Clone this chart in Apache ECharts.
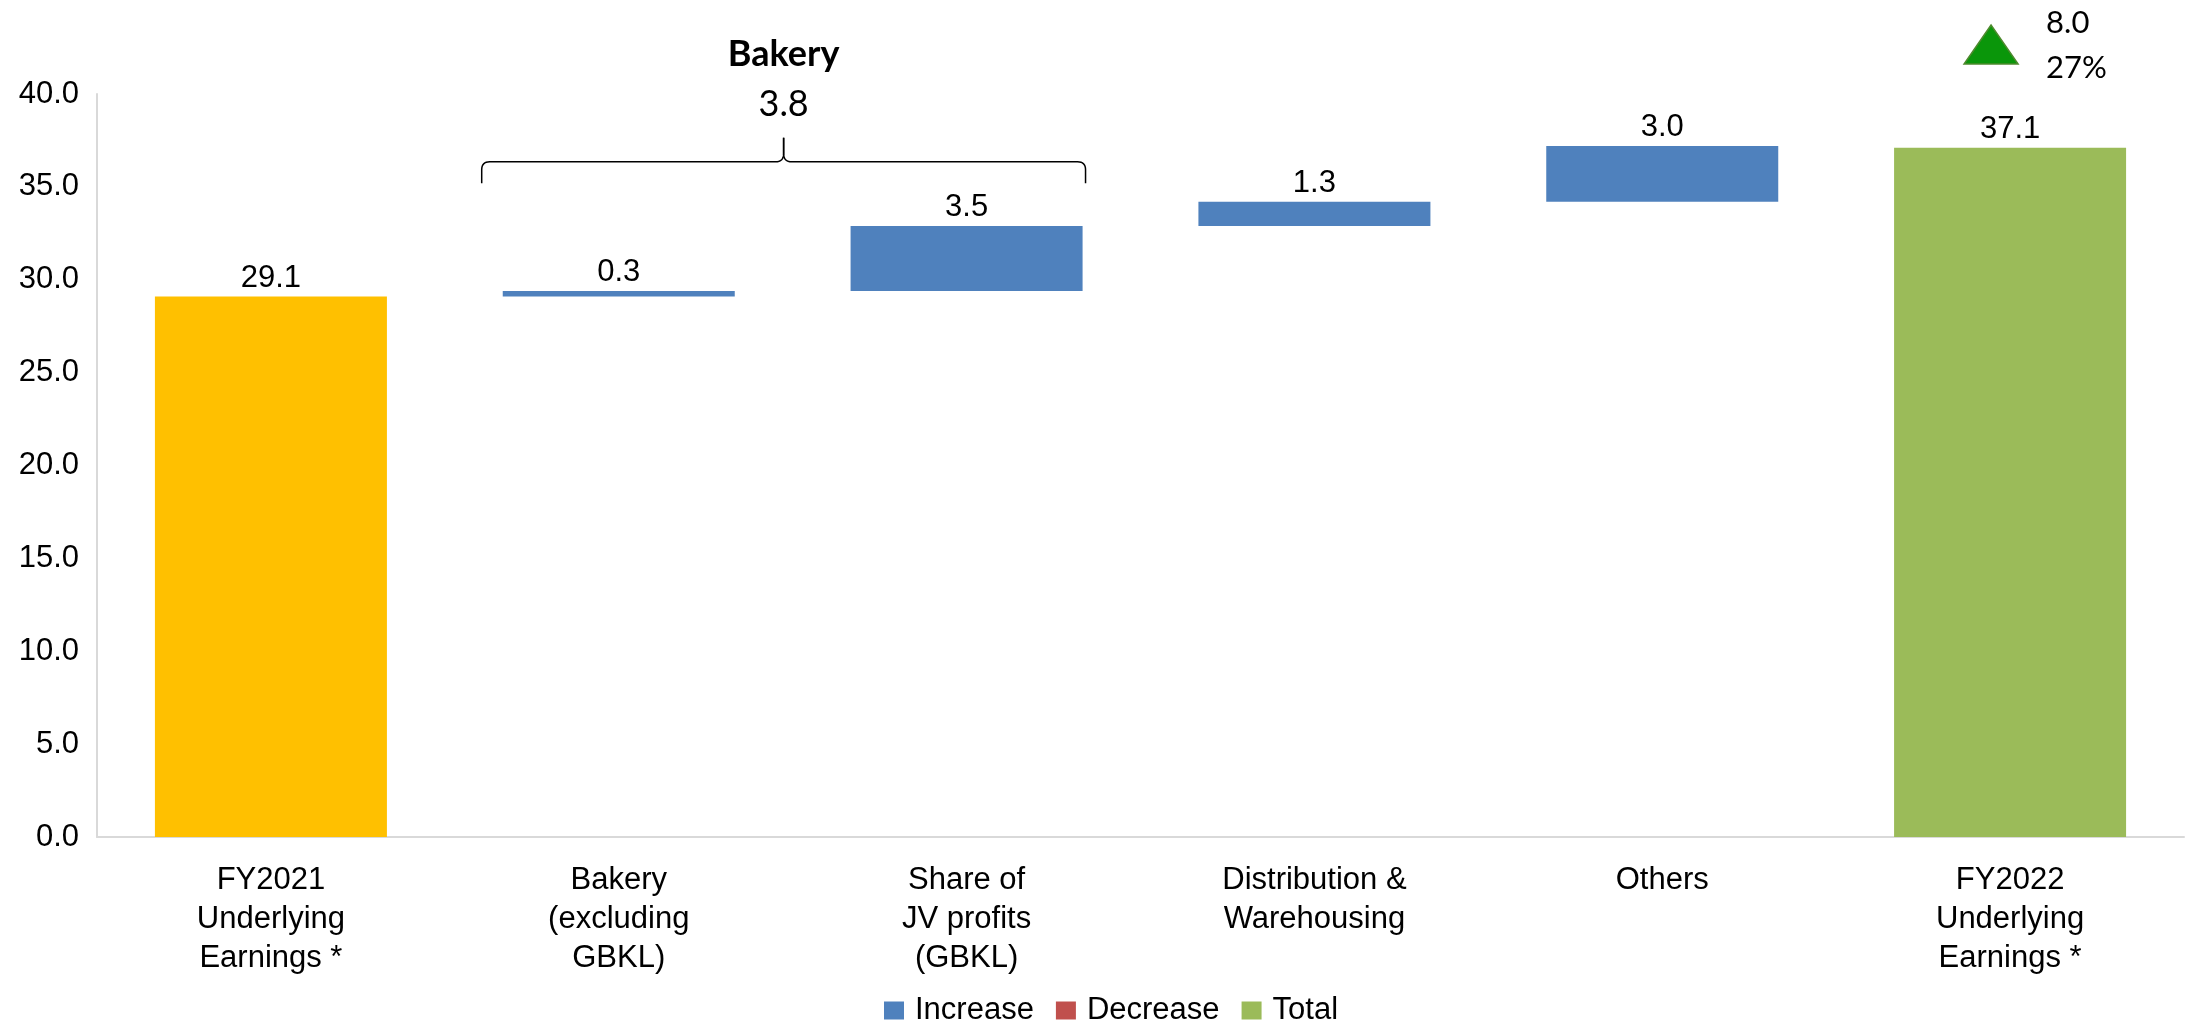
<!DOCTYPE html>
<html>
<head>
<meta charset="utf-8">
<title>Underlying Earnings Bridge</title>
<script src="https://cdn.jsdelivr.net/npm/echarts@6/dist/echarts.min.js"></script>
<style>
    html, body { margin: 0; padding: 0; background: #fff; }
    #chart { width: 2188px; height: 1025px; }
</style>
</head>
<body>
<div id="chart"></div>
<script>
    // 数据
    const categories = [
        'FY2021\nUnderlying\nEarnings *',
        'Bakery\n(excluding\nGBKL)',
        'Share of\nJV profits\n(GBKL)',
        'Distribution &\nWarehousing',
        'Others',
        'FY2022\nUnderlying\nEarnings *'
    ]
    const totals = [29.1, '-', '-', '-', '-', 37.1]
    const increases = ['-', 0.3, 3.5, 1.3, 3.0, '-']
    const decreases = ['-', '-', '-', '-', '-', '-']
    const yTicks = { min: 0, max: 40, step: 5 }
    const bakeryGroup = { title: 'Bakery', value: '3.8', from: 1, to: 2 }
    const overallChange = { value: '8.0', pct: '27%' }

    // 透明底座（瀑布图）
    const base = []
    let running = 0
    categories.forEach((c, i) => {
        if (totals[i] !== '-') {
            running = totals[i]
            base.push('-')
        } else {
            base.push(Number(running.toFixed(1)))
            running += (increases[i] === '-' ? 0 : increases[i])
        }
    })

    const font = "'Liberation Sans', Arial, sans-serif"
    const calibri = "Lato, 'Noto Sans', sans-serif"

    const chart = echarts.init(document.getElementById('chart'))

    const valueLabel = {
        show: true,
        position: 'top',
        distance: 3,
        color: '#000',
        fontFamily: font,
        fontSize: 31,
        formatter: p => Number(p.value).toFixed(1)
    }

    chart.setOption({
        animation: false,
        backgroundColor: '#fff',
        grid: { left: 97, right: 4, top: 94, bottom: 188 },
        legend: {
            left: 879,
            top: 990,
            icon: 'rect',
            itemWidth: 20,
            itemHeight: 18,
            itemGap: 22,
            data: ['Increase', 'Decrease', 'Total'],
            textStyle: { color: '#000', fontFamily: font, fontSize: 31, padding: [0, 0, 0, 6] }
        },
        xAxis: {
            type: 'category',
            data: categories,
            axisLine: { show: true, lineStyle: { color: '#d9d9d9', width: 2 } },
            axisTick: { show: false },
            splitLine: { show: false },
            axisLabel: {
                interval: 0,
                margin: 24,
                color: '#000',
                fontFamily: font,
                fontSize: 31,
                lineHeight: 39
            }
        },
        yAxis: {
            type: 'value',
            min: yTicks.min,
            max: yTicks.max,
            interval: yTicks.step,
            axisLine: { show: true, lineStyle: { color: '#d9d9d9', width: 2 } },
            axisTick: { show: false },
            splitLine: { show: false },
            axisLabel: {
                margin: 18,
                color: '#000',
                fontFamily: font,
                fontSize: 31,
                formatter: v => v.toFixed(1)
            }
        },
        series: [
            {
                name: 'base',
                type: 'bar',
                stack: 'wf',
                barWidth: '66.7%',
                itemStyle: { color: 'transparent' },
                emphasis: { disabled: true },
                data: base
            },
            {
                name: 'Increase',
                type: 'bar',
                stack: 'wf',
                itemStyle: { color: '#4F81BD' },
                label: valueLabel,
                data: increases
            },
            {
                name: 'Decrease',
                type: 'bar',
                stack: 'wf',
                itemStyle: { color: '#C0504D' },
                label: valueLabel,
                data: decreases
            },
            {
                name: 'Total',
                type: 'bar',
                stack: 'wf',
                itemStyle: { color: '#9BBB59' },
                label: valueLabel,
                data: totals.map((v, i) => i === 0 && v !== '-'
                    ? { value: v, itemStyle: { color: '#FFC000' } }
                    : v)
            }
        ]
    })

    // 注释：括号、Bakery 小计、总变化
    const toPx = (cat, val) => chart.convertToPixel({ xAxisIndex: 0, yAxisIndex: 0 }, [cat, val])
    const band = toPx(1, 0)[0] - toPx(0, 0)[0]
    const L = toPx(bakeryGroup.from, 0)[0] - band * 0.394
    const R = toPx(bakeryGroup.to, 0)[0] + band * 0.342
    const M = (L + R) / 2
    const yEnd = toPx(0, 35.2)[1]
    const yH = toPx(0, 36.35)[1]
    const yTip = toPx(0, 37.65)[1]
    const r = 8

    // 二次曲线取点
    const quad = (p0, p1, p2, n = 8) => {
        const pts = []
        for (let k = 1; k <= n; k++) {
            const t = k / n
            pts.push([
                (1 - t) * (1 - t) * p0[0] + 2 * (1 - t) * t * p1[0] + t * t * p2[0],
                (1 - t) * (1 - t) * p0[1] + 2 * (1 - t) * t * p1[1] + t * t * p2[1]
            ])
        }
        return pts
    }
    const leftHalf = [[L, yEnd], [L, yH + r]]
        .concat(quad([L, yH + r], [L, yH], [L + r, yH]))
        .concat([[M - r, yH]])
        .concat(quad([M - r, yH], [M, yH], [M, yH - r]))
        .concat([[M, yTip]])
    const rightHalf = [[R, yEnd], [R, yH + r]]
        .concat(quad([R, yH + r], [R, yH], [R - r, yH]))
        .concat([[M + r, yH]])
        .concat(quad([M + r, yH], [M, yH], [M, yH - r]))
        .concat([[M, yTip]])

    const lastX = toPx(categories.length - 1, 0)[0]

    chart.setOption({
        graphic: [
            {
                type: 'polyline',
                shape: { points: leftHalf },
                style: { fill: null, stroke: '#000', lineWidth: 1.5 }
            },
            {
                type: 'polyline',
                shape: { points: rightHalf },
                style: { fill: null, stroke: '#000', lineWidth: 1.5 }
            },
            {
                type: 'text',
                x: M, y: 54,
                style: {
                    text: bakeryGroup.title, fill: '#000', fontFamily: calibri,
                    fontWeight: 'bold', fontSize: 36, align: 'center', verticalAlign: 'middle'
                }
            },
            {
                type: 'text',
                x: M, y: 104,
                style: {
                    text: bakeryGroup.value, fill: '#000', fontFamily: calibri,
                    fontSize: 36, align: 'center', verticalAlign: 'middle'
                }
            },
            {
                type: 'polygon',
                shape: { points: [[lastX - 19, 25], [lastX - 46, 64], [lastX + 8, 64]] },
                style: { fill: '#0A960A', stroke: '#4E8A2E', lineWidth: 1.5 }
            },
            {
                type: 'text',
                x: lastX + 36, y: 23,
                style: {
                    text: overallChange.value, fill: '#000', fontFamily: calibri,
                    fontSize: 31, align: 'left', verticalAlign: 'middle'
                }
            },
            {
                type: 'text',
                x: lastX + 36, y: 68,
                style: {
                    text: overallChange.pct, fill: '#000', fontFamily: calibri,
                    fontSize: 31, align: 'left', verticalAlign: 'middle'
                }
            }
        ]
    })
</script>
</body>
</html>
